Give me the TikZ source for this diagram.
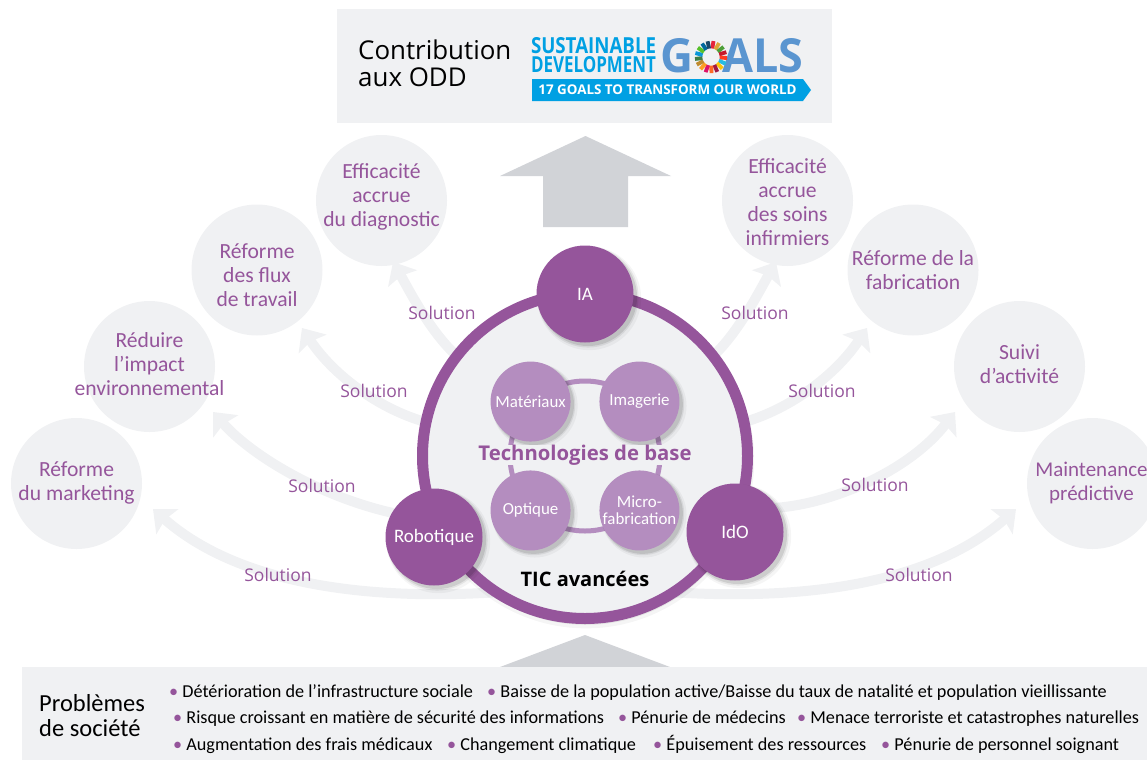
\documentclass[tikz,border=0pt]{standalone}
\usepackage{xcolor}
\usepackage{fontspec}
\setmainfont{Carlito}
\newfontfamily\widefont{Open Sans}
\usepackage{tikz}
\usetikzlibrary{shapes.geometric, shapes.symbols, arrows.meta, shadows, backgrounds}
\definecolor{panelgrey}{HTML}{F0F1F3}
\definecolor{arrowgrey}{HTML}{D1D3D7}
\definecolor{techpurple}{HTML}{95559B}
\definecolor{lightpurple}{HTML}{B48DBF}
\definecolor{sdgblue}{HTML}{00A0E3}
\definecolor{goalsblue}{HTML}{5A95D0}
\newcommand{\bul}{{\color{techpurple}\textbullet}\ }
\tikzstyle{softshadow} = [general shadow={fill=black, opacity=0.04, shadow xshift=4pt, shadow yshift=-4pt, shadow scale=1.07}, general shadow={fill=black, opacity=0.07, shadow xshift=3pt, shadow yshift=-3pt, shadow scale=1.04}, general shadow={fill=black, opacity=0.10, shadow xshift=3pt, shadow yshift=-3pt, shadow scale=1.01}]
\tikzstyle{hubshadow} = [general shadow={fill=black, opacity=0.04, shadow xshift=1pt, shadow yshift=-4pt, shadow scale=1.035}, general shadow={fill=black, opacity=0.07, shadow xshift=1pt, shadow yshift=-3pt, shadow scale=1.02}, general shadow={fill=black, opacity=0.10, shadow xshift=1pt, shadow yshift=-2pt, shadow scale=1.01}]
\tikzstyle{panel} = [rectangle, fill=panelgrey, inner sep=0pt]
\tikzstyle{goal} = [circle, fill=panelgrey, minimum size=131pt, inner sep=0pt, outer sep=0pt]
\tikzstyle{goaltext} = [align=center, text=techpurple, font=\fontsize{21.6}{24}\selectfont, inner sep=0pt]
\tikzstyle{core} = [circle, fill=techpurple, minimum size=97pt, inner sep=0pt, outer sep=0pt, text=white, softshadow, font=\fontsize{19}{24}\selectfont]
\tikzstyle{tech} = [circle, fill=lightpurple, minimum size=80pt, inner sep=0pt, outer sep=0pt, text=white, align=center, softshadow, font=\fontsize{16.9}{17.5}\selectfont]
\tikzstyle{hubring} = [circle, fill=panelgrey, draw=techpurple, line width=11pt, minimum size=325pt, inner sep=0pt, outer sep=0pt, hubshadow]
\tikzstyle{solution} = [text=techpurple, inner sep=0pt, font=\widefont\fontsize{17.5}{20}\selectfont]
\tikzstyle{issue} = [anchor=base west, inner sep=0pt, font=\fontsize{18.2}{20}\selectfont]
\tikzstyle{arrow} = [line width=10pt, draw=panelgrey, line cap=round, -{Stealth[width=33pt, length=19pt, inset=3pt]}]
\begin{document}
\begin{tikzpicture}[x=1pt, y=-1pt, node distance=100pt]
\clip (0,0) rectangle (1147,760);

\node (contrib) [panel, minimum width=495pt, minimum height=114pt] at (584.5,66) {};
\node (contribtext) [align=left, anchor=west, inner sep=0pt, font=\widefont\fontsize{25.9}{27}\selectfont] at (358,63.5) {Contribution\\aux ODD};
\node (sustain) [text=sdgblue, inner sep=0pt, font=\widefont\bfseries] at (593.5,46) {\resizebox{125pt}{16pt}{SUSTAINABLE}};
\node (develop) [text=sdgblue, inner sep=0pt, font=\widefont\bfseries] at (593.5,65) {\resizebox{125pt}{16pt}{DEVELOPMENT}};
\node (goalg) [text=goalsblue, inner sep=0pt, font=\widefont\bfseries] at (677,56) {\resizebox{33pt}{34pt}{G}};
\node (goalals) [text=goalsblue, inner sep=0pt, font=\widefont\bfseries] at (763,56) {\resizebox{81pt}{34pt}{ALS}};
\coordinate (wheel) at (711,57);
\foreach \c [count=\i] in {E5243B,DDA63A,4C9F38,C5192D,FF3A21,26BDE2,FCC30B,A21942,FD6925,DD1367,FD9D24,BF8B2E,3F7E44,0A97D9,56C02B,00689D,19486A}
{
\definecolor{sdgc}{HTML}{\c}
\draw [sdgc, line width=7.5pt] ([shift={(-90+\i*21.18-21.18:12.5)}]wheel) arc (-90+\i*21.18-21.18:-90+\i*21.18-3.5:12.5);
}
\node (banner) [signal, signal to=east, signal pointer angle=108, fill=sdgblue, minimum width=279pt, minimum height=22pt, inner sep=0pt, outer sep=0pt, text=white, font=\widefont\bfseries\fontsize{13.4}{14}\selectfont] at (667.5,90) {17 GOALS TO TRANSFORM OUR WORLD};

\fill [arrowgrey] (585.5,136) -- (671,176) -- (628,176) -- (628,227) -- (543,227) -- (543,176) -- (500,176) -- cycle;
\fill [arrowgrey] (585,635) -- (670,667) -- (500,667) -- cycle;
\node (problems) [panel, minimum width=1125pt, minimum height=93pt] at (584.5,713.5) {};

\node (diag) [goal, label={[goaltext, yshift=4pt]center:Efficacité\\accrue\\du diagnostic}] at (381.5,200.5) {};
\node (flux) [goal, left of=diag, xshift=-24.5pt, yshift=-69.5pt, label={[goaltext, yshift=-5pt]center:Réforme\\des flux\\de travail}] {};
\node (reduire) [goal, left of=flux, xshift=-7.5pt, yshift=-96.5pt, label={[goaltext, yshift=2pt]center:Réduire\\l’impact\\environnemental}] {};
\node (market) [goal, left of=reduire, xshift=27pt, yshift=-117pt, label={[goaltext, yshift=1pt]center:Réforme\\du marketing}] {};
\node (soins) [goal, right of=diag, xshift=306pt, label={[goaltext, yshift=-2pt]center:Efficacité\\accrue\\des soins\\infirmiers}] {};
\node (fabric) [goal, right of=soins, xshift=25.5pt, yshift=-69.5pt, label={[goaltext]center:Réforme de la\\fabrication}] {};
\node (suivi) [goal, right of=fabric, xshift=6.5pt, yshift=-96.5pt, label={[goaltext, yshift=2pt]center:Suivi\\d’activité}] {};
\node (maint) [goal, right of=suivi, xshift=-27pt, yshift=-117pt, label={[goaltext, xshift=-1pt, yshift=1pt, font=\fontsize{21}{24}\selectfont]center:Maintenance\\prédictive}] {};

\node (hub) [hubring] at (585,456) {};
\node (techring) [circle, draw=lightpurple, line width=5pt, minimum size=150pt, inner sep=0pt] at (hub) {};
\node (matter) [tech, above left of=hub, node distance=77pt] {Matériaux};
\node (imaging) [tech, above right of=hub, node distance=77pt] {Imagerie};
\node (optics) [tech, below left of=hub, node distance=77pt] {Optique};
\node (microfab) [tech, below right of=hub, node distance=77pt] {Micro-\\fabrication};
\node (basetext) [fill=panelgrey, inner sep=0pt, text=techpurple, font=\widefont\bfseries\fontsize{20.3}{20}\selectfont] at (585,455) {Technologies de base};
\node (tictext) [inner sep=0pt, font=\widefont\bfseries\fontsize{20}{20}\selectfont] at (585,579) {TIC avancées};
\node (ia) [core, above of=hub, node distance=162pt] {IA};
\node (robot) [core, left of=hub, node distance=151pt, yshift=-81pt] {Robotique};
\node (ido) [core, right of=hub, node distance=150pt, yshift=-76pt] {IdO};

\coordinate (tipdiag) at (393,262);
\coordinate (tipflux) at (302,328);
\coordinate (tipreduire) at (213,412);
\coordinate (tipmarket) at (153,509);
\coordinate (tipsoins) at (776,262);
\coordinate (tipfabric) at (867,328);
\coordinate (tipsuivi) at (955,412);
\coordinate (tipmaint) at (1016,509);

\begin{scope}[on background layer]
\draw [arrow] (hub.142) .. controls (430,332) and (408,288) .. (tipdiag);
\draw [arrow] (hub.168) .. controls (376,408) and (332,373) .. (tipflux);
\draw [arrow] (robot.150) .. controls (322,497) and (253,457) .. (tipreduire);
\draw [arrow] (hub.-123) .. controls (340,602) and (228,575) .. (tipmarket);
\draw [arrow] (hub.38) .. controls (739,332) and (761,288) .. (tipsoins);
\draw [arrow] (hub.12) .. controls (793,408) and (837,373) .. (tipfabric);
\draw [arrow] (ido.30) .. controls (835,503) and (910,470) .. (tipsuivi);
\draw [arrow] (hub.-57) .. controls (830,602) and (941,575) .. (tipmaint);
\end{scope}

\node (soldiag) [solution] at (442,313) {Solution};
\node (solflux) [solution] at (374,391) {Solution};
\node (solreduire) [solution] at (322,486) {Solution};
\node (solmarket) [solution] at (278,575) {Solution};
\node (solsoins) [solution] at (755,313) {Solution};
\node (solfabric) [solution] at (822,391) {Solution};
\node (solsuivi) [solution] at (875,485) {Solution};
\node (solmaint) [solution] at (919,575) {Solution};

\node (problemtext) [align=left, anchor=west, inner sep=0pt, font=\fontsize{24.5}{25}\selectfont] at (39,715.5) {Problèmes\\de société};
\node (issue1) [issue] at (169,697) {\bul Détérioration de l’infrastructure sociale};
\node (issue2) [issue] at (487,697) {\bul Baisse de la population active/Baisse du taux de natalité et population vieillissante};
\node (issue3) [issue] at (173,723) {\bul Risque croissant en matière de sécurité des informations};
\node (issue4) [issue] at (618,723) {\bul Pénurie de médecins};
\node (issue5) [issue] at (797,723) {\bul Menace terroriste et catastrophes naturelles};
\node (issue6) [issue] at (173,750) {\bul Augmentation des frais médicaux};
\node (issue7) [issue] at (447,750) {\bul Changement climatique};
\node (issue8) [issue] at (653,750) {\bul Épuisement des ressources};
\node (issue9) [issue] at (881,750) {\bul Pénurie de personnel soignant};
\end{tikzpicture}
\end{document}
